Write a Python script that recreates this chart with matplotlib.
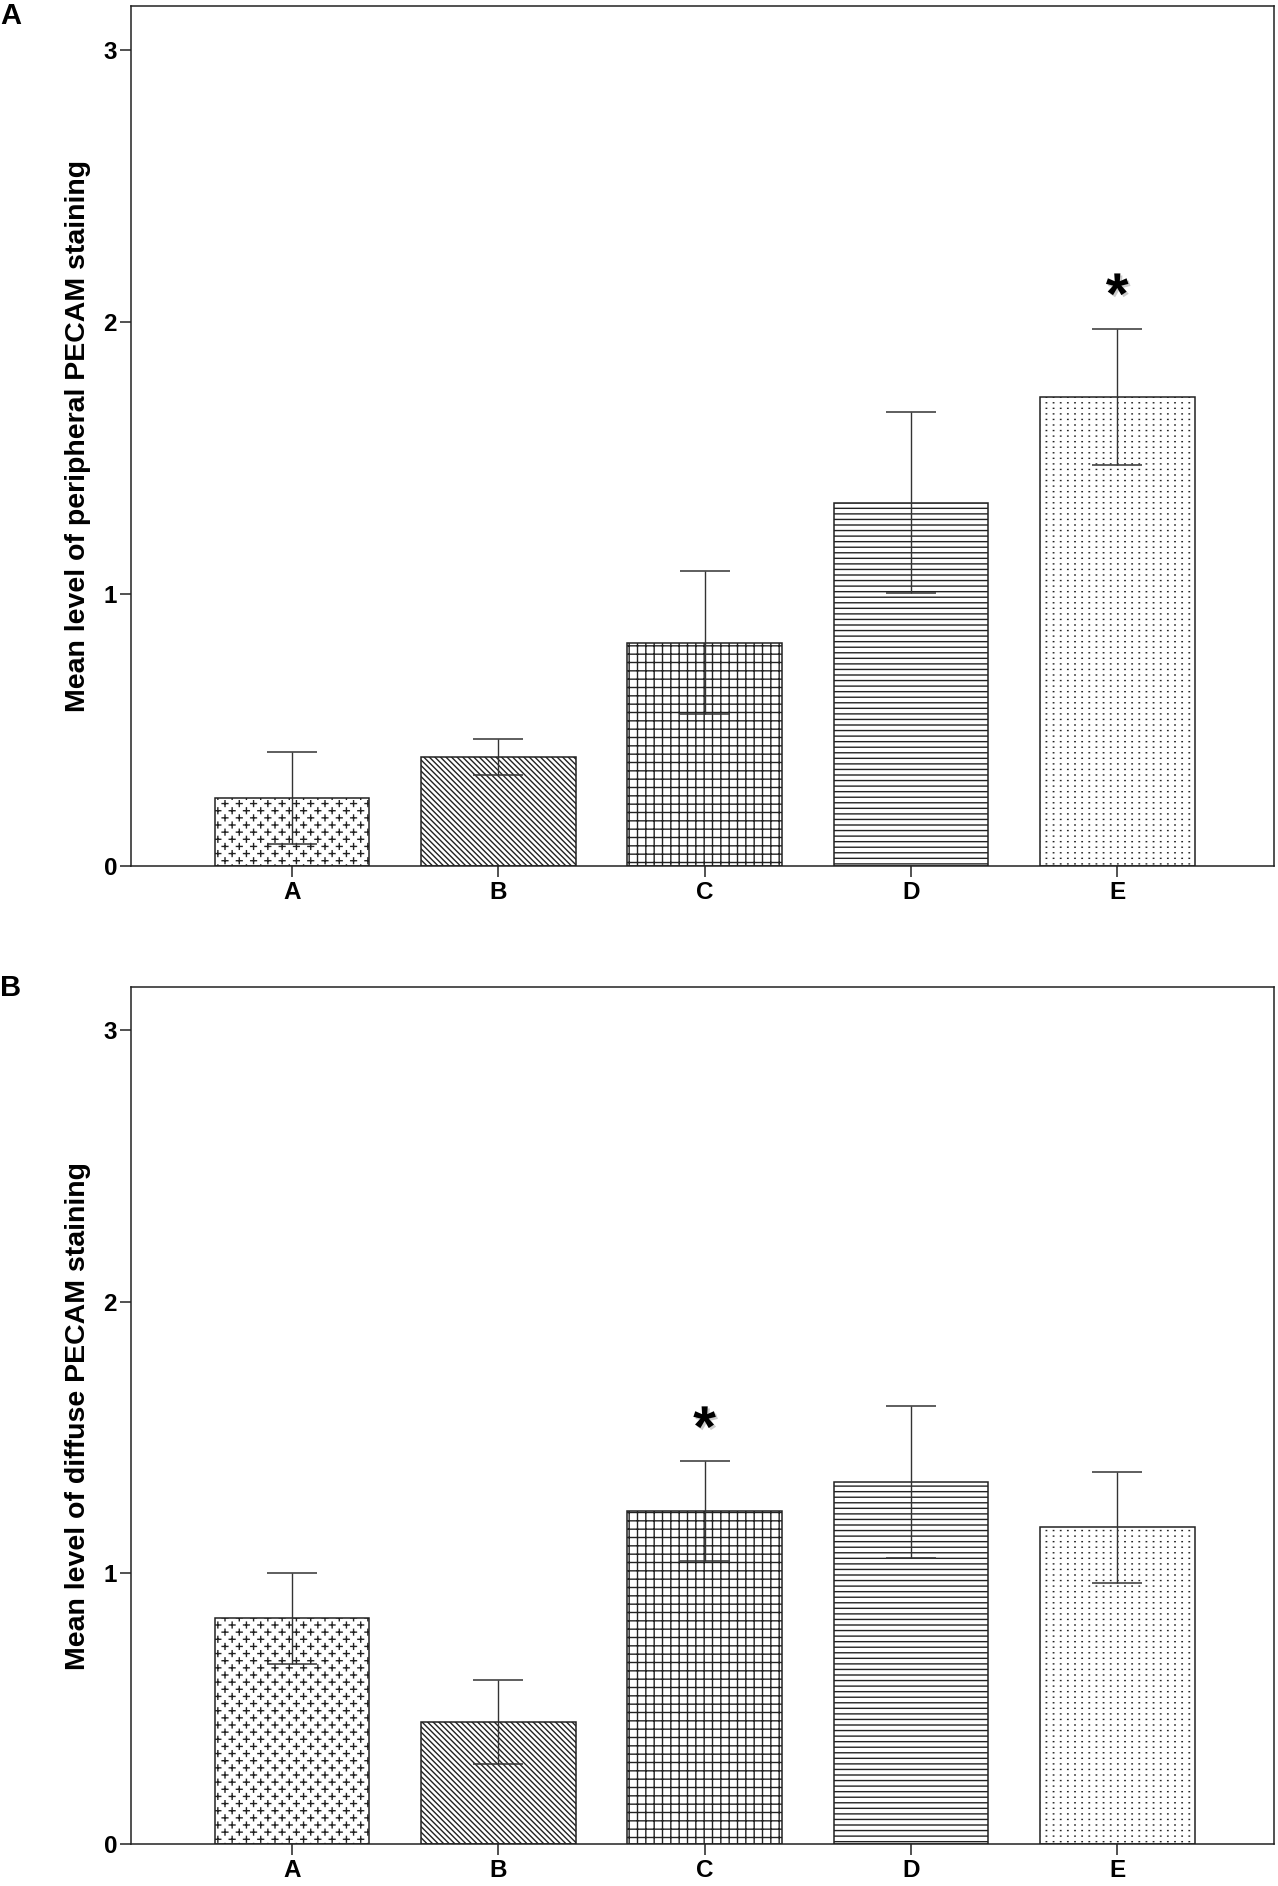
import numpy as np
import matplotlib
matplotlib.use("Agg")
import matplotlib.pyplot as plt
import matplotlib.hatch as mhatch
import matplotlib.patheffects as pe
from matplotlib.path import Path

groups = ["A", "B", "C", "D", "E"]
peripheral_mean = [0.25, 0.40, 0.82, 1.335, 1.725]
peripheral_err = [0.17, 0.067, 0.263, 0.333, 0.25]
diffuse_mean = [0.832, 0.45, 1.228, 1.334, 1.168]
diffuse_err = [0.167, 0.155, 0.183, 0.28, 0.205]
peripheral_star = 4   # group marked as significant
diffuse_star = 2
hatches = ["*", "\\" * 6, "++", "---", "."]


class PlusHatch(mhatch.HatchPatternBase):
    # staggered rows of small "+" signs, takes over the '*' hatch character
    def __init__(self, hatch, density):
        self.ncol = hatch.count("*") * 7
        self.nrow = 2 * self.ncol
        self.num_vertices = self.ncol * self.nrow * 4

    def set_vertices_and_codes(self, vertices, codes):
        h = 0.029
        k = 0
        for j in range(self.nrow):
            y = (j + 0.5) / self.nrow
            for i in range(self.ncol):
                x = (i + 0.25 + 0.5 * (j % 2)) / self.ncol
                vertices[k:k + 4] = [[x - h, y], [x + h, y], [x, y - h], [x, y + h]]
                codes[k:k + 4] = [Path.MOVETO, Path.LINETO, Path.MOVETO, Path.LINETO]
                k += 4


class DotHatch(mhatch.HatchPatternBase):
    # plain grid of tiny dots, takes over the '.' hatch character
    def __init__(self, hatch, density):
        n = hatch.count(".")
        self.ncol = n * 14
        self.nrow = n * 18
        self.num_vertices = self.ncol * self.nrow * 2

    def set_vertices_and_codes(self, vertices, codes):
        d = 0.002
        k = 0
        for j in range(self.nrow):
            y = (j + 0.5) / self.nrow
            for i in range(self.ncol):
                x = (i + 0.5) / self.ncol
                vertices[k:k + 2] = [[x - d, y], [x + d, y]]
                codes[k:k + 2] = [Path.MOVETO, Path.LINETO]
                k += 2


mhatch._hatch_types[mhatch._hatch_types.index(mhatch.Stars)] = PlusHatch
mhatch._hatch_types[mhatch._hatch_types.index(mhatch.SmallFilledCircles)] = DotHatch

plt.rcParams["font.family"] = ["Liberation Sans", "DejaVu Sans"]
plt.rcParams["font.weight"] = "bold"
plt.rcParams["hatch.linewidth"] = 1.0
plt.rcParams["hatch.color"] = "black"

W, H = 1278, 1886
fig = plt.figure(figsize=(W / 100, H / 100), dpi=100)


def panel(rect, means, errs, star, ylabel, letter, letter_y):
    ax = fig.add_axes(rect)
    x = np.arange(len(groups))
    ax.bar(x, means, width=0.75, color="white", edgecolor="#222222",
           linewidth=1.1, hatch=hatches, zorder=1)
    ax.errorbar(x, means, yerr=errs, fmt="none", ecolor="#333333",
                elinewidth=1.0, capsize=18, capthick=1.1, zorder=3)
    ax.set_xlim(-0.78, 4.76)
    ax.set_ylim(0, 3.16)
    ax.set_yticks([0, 1, 2, 3])
    ax.set_xticks(x)
    ax.set_xticklabels(groups)
    for s in ax.spines.values():
        s.set_linewidth(1.1)
        s.set_color("#222222")
    ax.tick_params(axis="both", length=8, width=1.1, labelsize=17.5,
                   color="#222222")
    ax.tick_params(axis="x", pad=3)
    ax.tick_params(axis="y", pad=2)
    t = ax.text(x[star], means[star] + errs[star] + 0.11, "*", ha="center",
                va="center", fontsize=42, fontweight="bold")
    t.set_path_effects([pe.withSimplePatchShadow(offset=(1.5, -1.5),
                                                  shadow_rgbFace="gray",
                                                  alpha=0.4)])
    fig.text(78 / W, rect[1] + rect[3] / 2, ylabel, rotation=90, ha="center",
             va="center", fontsize=20.5, fontweight="bold")
    fig.text(0.0, letter_y, letter, ha="left", va="center", fontsize=21,
             fontweight="bold")
    return ax


left = 131 / W
width = (1274 - 131) / W
panel([left, 1 - 866 / H, width, 860 / H], peripheral_mean, peripheral_err,
      peripheral_star, "Mean level of peripheral PECAM staining", "A",
      1 - 16 / H)
panel([left, 1 - 1844 / H, width, 857 / H], diffuse_mean, diffuse_err,
      diffuse_star, "Mean level of diffuse PECAM staining", "B",
      1 - 988 / H)

fig.savefig("out.png", dpi=100)
